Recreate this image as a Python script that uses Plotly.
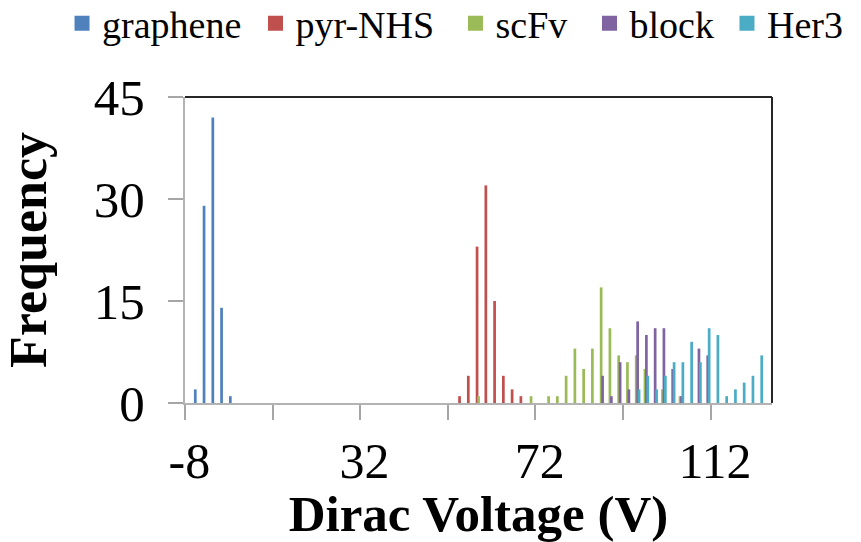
import plotly.graph_objects as go

# Dirac-voltage histogram bins (V); each bin is 2 V wide
graphene_v = [-6, -4, -2, 0, 2]
graphene_n = [2, 29, 42, 14, 1]

pyr_nhs_v = [54, 56, 58, 60, 62, 64, 66, 68]
pyr_nhs_n = [1, 4, 23, 32, 15, 4, 2, 1]

scfv_v = [58, 70, 74, 76, 78, 80, 82, 84, 86, 88, 90, 92, 94, 96, 100, 104]
scfv_n = [1, 1, 1, 1, 4, 8, 5, 8, 17, 11, 7, 6, 7, 5, 2, 1]

block_v = [86, 88, 90, 92, 94, 96, 98, 100, 102, 104, 108, 110]
block_n = [4, 1, 6, 2, 12, 10, 11, 11, 5, 1, 8, 7]

her3_v = [94, 96, 98, 100, 102, 104, 106, 108, 110, 112, 114, 116, 118, 120, 122]
her3_n = [2, 4, 2, 4, 6, 6, 9, 6, 11, 10, 1, 2, 3, 4, 7]

series_names = ["graphene", "pyr-NHS", "scFv", "block", "Her3"]
series_colors = ["#4F81BD", "#C0504D", "#9BBB59", "#8064A2", "#4BACC6"]
series_x = [graphene_v, pyr_nhs_v, scfv_v, block_v, her3_v]
series_y = [graphene_n, pyr_nhs_n, scfv_n, block_n, her3_n]

x_ticks = [-8, 32, 72, 112]
y_ticks = [0, 15, 30, 45]

FONT = "Liberation Serif"
BAR_W = 0.62      # bar width in V
STEP = 0.326      # shift between neighbouring series within a bin
# horizontal anchor (paper units) of each legend entry along the top row
LEGEND_X = [-0.2095, 0.1201, 0.4608, 0.6891, 0.9233]

fig = go.Figure()
for k, (name, col, xs, ys) in enumerate(zip(series_names, series_colors, series_x, series_y)):
    lg = "legend" if k == 0 else f"legend{k + 1}"
    fig.add_trace(go.Bar(
        x=xs, y=ys, name=name, legendgroup=name, showlegend=False,
        marker=dict(color=col, line=dict(width=0)),
        width=BAR_W,
        offset=(k - 2) * STEP - BAR_W / 2,
    ))
    # legend key: a square swatch in the series colour
    fig.add_trace(go.Scatter(
        x=[None], y=[None], mode="markers", name=name, legendgroup=name,
        legend=lg, hoverinfo="skip",
        marker=dict(symbol="square", size=15, color=col),
    ))

legend_layout = {}
for k, lx in enumerate(LEGEND_X):
    key = "legend" if k == 0 else f"legend{k + 1}"
    legend_layout[key] = dict(
        orientation="h", xref="paper", yref="paper",
        x=lx, y=1.343, xanchor="left", yanchor="top",
        font=dict(size=38, family=FONT, color="black"),
        bgcolor="rgba(0,0,0,0)", itemclick=False, itemdoubleclick=False,
    )

fig.update_layout(
    width=861, height=542,
    margin=dict(l=185, r=89, t=97, b=139, autoexpand=False),
    barmode="overlay",
    plot_bgcolor="white", paper_bgcolor="white",
    font=dict(family=FONT, color="black"),
    showlegend=True,
    shapes=[
        dict(type="line", xref="paper", yref="paper", x0=0, x1=1, y0=1, y1=1,
             line=dict(color="#262626", width=2)),
        dict(type="line", xref="paper", yref="paper", x0=1, x1=1, y0=0, y1=1,
             line=dict(color="#262626", width=2)),
    ],
    **legend_layout,
)

fig.update_xaxes(
    range=[-9, 125],
    tickmode="array", tickvals=x_ticks, ticktext=[str(v) for v in x_ticks],
    ticks="", ticklabelstandoff=13,
    minor=dict(tick0=-9, dtick=20, ticks="outside", ticklen=15,
               tickcolor="#A6A6A6", tickwidth=2, showgrid=False),
    showline=True, linecolor="#B3B3B3", linewidth=2,
    showgrid=False, zeroline=False,
    tickfont=dict(size=50, family=FONT, color="black"),
    title=dict(text="<b>Dirac Voltage (V)</b>", standoff=0,
               font=dict(size=51, family=FONT, color="black")),
)
fig.update_yaxes(
    range=[0, 45],
    tickmode="array", tickvals=y_ticks,
    ticks="outside", ticklen=15, tickcolor="#A6A6A6", tickwidth=2,
    ticklabelstandoff=13,
    showline=True, linecolor="#B3B3B3", linewidth=2,
    showgrid=False, zeroline=False,
    tickfont=dict(size=51, family=FONT, color="black"),
    title=dict(text="<b>Frequency</b>", standoff=33,
               font=dict(size=52, family=FONT, color="black")),
)

fig.write_html("out.html")
